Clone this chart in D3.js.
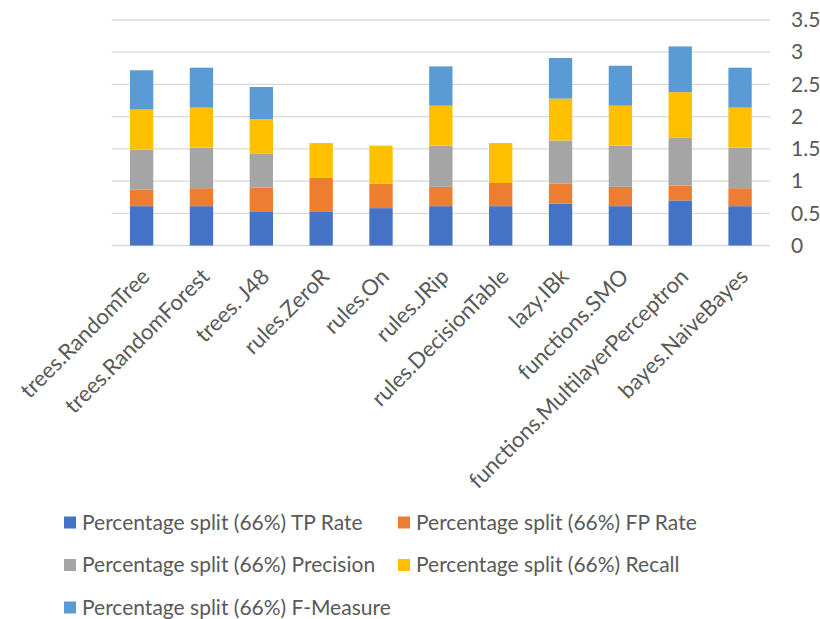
<!DOCTYPE html>
<html>
<head>
<meta charset="utf-8">
<script src="https://cdn.jsdelivr.net/npm/d3@7"></script>
<style>
  html, body { margin: 0; padding: 0; background: #fff; }
  svg { display: block; }
  svg text { font-family: Lato, "Open Sans", sans-serif; }
</style>
</head>
<body>
<svg id="chart" width="820" height="619"></svg>
<script>
// Classifier names shown along the category axis
const categories = [
  "trees.RandomTree", "trees.RandomForest", "trees. J48", "rules.ZeroR", "rules.On",
  "rules.JRip", "rules.DecisionTable", "lazy.IBk", "functions.SMO",
  "functions.MultilayerPerceptron", "bayes.NaiveBayes"
];

// Metric values per classifier (Percentage split 66%)
const tpRate    = [0.61, 0.61, 0.53, 0.53, 0.58, 0.61, 0.61, 0.65, 0.61, 0.70, 0.61];
const fpRate    = [0.26, 0.28, 0.37, 0.52, 0.38, 0.30, 0.36, 0.31, 0.30, 0.23, 0.28];
const precision = [0.62, 0.63, 0.53, 0,    0,    0.64, 0,    0.67, 0.64, 0.74, 0.63];
const recall    = [0.62, 0.62, 0.53, 0.54, 0.59, 0.62, 0.62, 0.65, 0.62, 0.71, 0.62];
const fMeasure  = [0.61, 0.62, 0.50, 0,    0,    0.61, 0,    0.63, 0.62, 0.71, 0.62];

const seriesNames = [
  "Percentage split (66%) TP Rate",
  "Percentage split (66%) FP Rate",
  "Percentage split (66%) Precision",
  "Percentage split (66%) Recall",
  "Percentage split (66%) F-Measure"
];
const yTicks = [0, 0.5, 1, 1.5, 2, 2.5, 3, 3.5];

const colors = ["#4472C4", "#ED7D31", "#A5A5A5", "#FFC000", "#5B9BD5"];
const seriesValues = [tpRate, fpRate, precision, recall, fMeasure];

const rows = categories.map((c, i) => {
  const r = { name: c };
  seriesNames.forEach((s, k) => { r[s] = seriesValues[k][i]; });
  return r;
});

const svg = d3.select("#chart");
const plot = { left: 111.7, right: 770, top: 20, bottom: 245.5 };
const fontFamily = "Lato, 'Open Sans', sans-serif";

const x = d3.scaleBand()
  .domain(categories)
  .range([plot.left, plot.right])
  .paddingInner(0.61)
  .paddingOuter(0.305);

const y = d3.scaleLinear()
  .domain([0, 3.5])
  .range([plot.bottom, plot.top]);

// Horizontal gridlines
svg.append("g")
  .selectAll("line")
  .data(yTicks)
  .join("line")
  .attr("x1", plot.left)
  .attr("x2", plot.right)
  .attr("y1", d => y(d))
  .attr("y2", d => y(d))
  .attr("stroke", "#D9D9D9")
  .attr("stroke-width", 1.3);

// Stacked bars
const stack = d3.stack().keys(seriesNames)(rows);
svg.append("g")
  .selectAll("g")
  .data(stack)
  .join("g")
  .attr("fill", (d, i) => colors[i])
  .selectAll("rect")
  .data(d => d)
  .join("rect")
  .attr("x", d => x(d.data.name))
  .attr("width", x.bandwidth())
  .attr("y", d => y(d[1]))
  .attr("height", d => y(d[0]) - y(d[1]));

// Value axis on the right
const yAxis = svg.append("g")
  .attr("transform", `translate(${plot.right},0)`)
  .call(d3.axisRight(y).tickValues(yTicks).tickSize(0).tickPadding(21)
    .tickFormat(d3.format("")));
yAxis.attr("font-family", fontFamily).attr("font-size", 21);
yAxis.select(".domain").remove();
yAxis.selectAll("text").attr("fill", "#595959");

// Category axis with rotated labels
const xAxis = svg.append("g")
  .attr("transform", `translate(0,${plot.bottom})`)
  .call(d3.axisBottom(x).tickSize(0).tickPadding(0));
xAxis.attr("font-family", fontFamily).attr("font-size", 22);
xAxis.select(".domain").remove();
xAxis.selectAll("text")
  .attr("fill", "#595959")
  .attr("text-anchor", "end")
  .attr("dy", "0.35em")
  .attr("y", 0)
  .attr("transform", "translate(4,27) rotate(-45)");

// Legend
const legendPos = [
  { x: 64, y: 522.5 }, { x: 398, y: 522.5 },
  { x: 64, y: 565 }, { x: 398, y: 565 },
  { x: 64, y: 607.5 }
];
const legend = svg.append("g")
  .attr("font-family", fontFamily)
  .attr("font-size", 21)
  .selectAll("g")
  .data(seriesNames)
  .join("g")
  .attr("transform", (d, i) => `translate(${legendPos[i].x},${legendPos[i].y})`);
legend.append("rect")
  .attr("x", 0).attr("y", -6)
  .attr("width", 12).attr("height", 12)
  .attr("fill", (d, i) => colors[i]);
legend.append("text")
  .attr("x", 18)
  .attr("dy", "0.35em")
  .attr("fill", "#595959")
  .text(d => d);
</script>
</body>
</html>
